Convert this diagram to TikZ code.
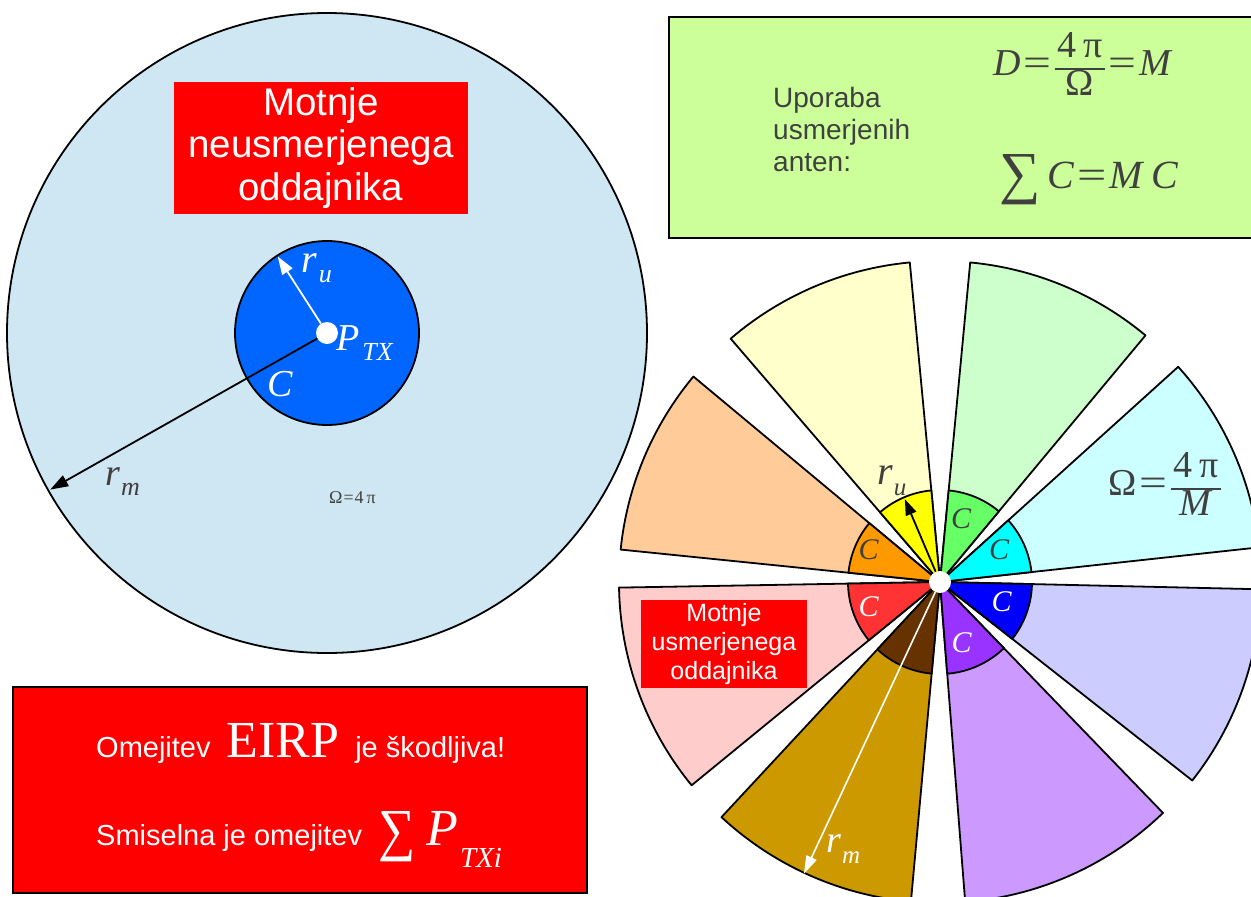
\documentclass[tikz,border=0pt]{standalone}
\usepackage{graphicx}
\usepackage{fontspec}
\setmainfont{Liberation Serif}
\newfontfamily\sansf{Liberation Sans}
\usetikzlibrary{arrows.meta}
\definecolor{bgblue}{HTML}{CFE6F3}
\definecolor{pblue}{HTML}{0066FF}
\definecolor{eqgray}{HTML}{404040}
\definecolor{gbox}{HTML}{CCFF99}
\definecolor{oCy}{HTML}{CCFFFF}\definecolor{iCy}{HTML}{00FFFF}
\definecolor{oGr}{HTML}{CCFFCC}\definecolor{iGr}{HTML}{66FF66}
\definecolor{oYe}{HTML}{FFFFCC}\definecolor{iYe}{HTML}{FFFF00}
\definecolor{oOr}{HTML}{FFCC99}\definecolor{iOr}{HTML}{FF9900}
\definecolor{oRe}{HTML}{FFCCCC}\definecolor{iRe}{HTML}{FF3333}
\definecolor{oBr}{HTML}{CC9900}\definecolor{iBr}{HTML}{663300}
\definecolor{oPu}{HTML}{CC99FF}\definecolor{iPu}{HTML}{9933FF}
\definecolor{oBl}{HTML}{CCCCFF}\definecolor{iBl}{HTML}{0000FF}
\newcommand\fsz[2]{\fontsize{#1}{#2}\selectfont}
\newcommand\bigsum[3]{\raisebox{#2}{\scalebox{#3}[1]{\fontsize{#1}{#1}\selectfont ∑}}}
\newcommand\eqs{\hspace{3pt}\scalebox{1.3}[1]{=}\hspace{3pt}}
\newcommand\fracx[2]{{\setlength\arrayrulewidth{1.5pt}\setlength\tabcolsep{3pt}\renewcommand\arraystretch{0.95}\begin{tabular}[c]{c}#1\\\hline #2\end{tabular}}}
\begin{document}
\begin{tikzpicture}[x=1pt,y=-1pt,
  outl/.style={draw=black,line width=1.8pt,line join=round},
  lbl/.style={inner sep=0pt,anchor=base west},
  dot/.style={circle,fill=white,minimum size=22pt,inner sep=0pt},
  arr/.style={line width=1.8pt,-{Triangle[length=18pt,width=12pt]}},
  cl/.style={inner sep=0pt,font=\fsz{30}{30}\itshape},
  redbox/.style={fill=red,text=white,inner sep=0pt,align=center}]
\useasboundingbox (0,0) rectangle (1251,897);
\clip (0,0) rectangle (1251,897);

% ---------- left: omnidirectional ----------
\coordinate (O) at (327,333);
\draw[outl,fill=bgblue] (O) circle[radius=320];
\draw[outl,fill=pblue] (O) circle[radius=92];
\node[dot] (Odot) at (O) {};
\path (O) ++(-209.5:318) coordinate (rmEnd);
\path (O) ++(-122.8:91) coordinate (ruEnd);
\draw[arr] (Odot) -- (rmEnd);
\draw[arr,white] (Odot) -- (ruEnd);
\node[lbl,text=white] (ruL) at (301,272) {\fsz{40}{40}\textit{r}\hspace{2pt}\raisebox{-10pt}{\fsz{26}{26}\textit{u}}};
\node[lbl,text=white] (ptx) at (336,350) {\fsz{38}{38}\textit{P}\hspace{3pt}\raisebox{-10pt}{\fsz{26}{26}\textit{TX}}};
\node[lbl,text=white] (cL) at (267,396) {\fsz{38}{38}\textit{C}};
\node[lbl,text=eqgray] (rmL) at (105,485) {\fsz{38}{38}\textit{r}\hspace{1pt}\raisebox{-10pt}{\fsz{26}{26}\textit{m}}};
\node[lbl,text=eqgray] (om4) at (329,503) {\fsz{18}{18}Ω\hspace{1pt}=\hspace{1pt}4\,π};
\node[redbox,minimum width=294pt,minimum height=132pt,font=\sansf\fsz{38.5}{42.5}] (tlbox) at (321,148) {Motnje\\neusmerjenega\\oddajnika};

% ---------- bottom-left box ----------
\node[draw=black,line width=1.8pt,fill=red,minimum width=574pt,minimum height=206pt] (bbox) at (300,790) {};
\node[lbl,text=white] (l1) at (96,757) {\sansf\fsz{29}{30}Omejitev\hspace{16pt}{\rmfamily\fsz{52}{52}EIRP}\hspace{16pt}je škodljiva!};
\node[lbl,text=white] (l2) at (96,845) {\sansf\fsz{29}{30}Smiselna je omejitev\hspace{16pt}{\rmfamily\fsz{52}{52}\bigsum{58}{-4pt}{0.9}\hspace{11pt}\textit{P}\hspace{2pt}\raisebox{-22pt}{\fsz{29}{29}\textit{TXi}}}};

% ---------- green box ----------
\node[draw=black,line width=1.8pt,fill=gbox,minimum width=586pt,minimum height=221pt,inner sep=0pt] (gb) at (962,127.5) {};
\node[anchor=west,inner sep=0pt,align=left,text=eqgray,font=\sansf\fsz{28}{32}] (upo) at (773,129) {Uporaba\\usmerjenih\\anten:};
\node[inner sep=0pt,text=eqgray,font=\fsz{38}{38}] (eqD) at (1083,69) {\textit{D}\eqs\fracx{4\,π}{Ω}\eqs\textit{M}};
\node[inner sep=0pt,text=eqgray,font=\fsz{40}{40}] (eqS) at (1089,180) {\bigsum{58}{-4pt}{1}\hspace{6pt}\textit{C}\eqs\textit{M}\,\textit{C}};

% ---------- right: directional fan ----------
\coordinate (F) at (940,582);
\foreach \s/\e/\oc/\ic in {6.2/42.1/oCy/iCy,50.2/84.6/oGr/iGr,95.4/130.7/oYe/iYe,140.2/174.2/oOr/iOr,181/219.3/oRe/iRe,227.1/264.8/oBr/iBr,274.5/314/oPu/iPu,321.8/358.7/oBl/iBl}{
  \filldraw[outl,fill=\oc] (F) -- ++(-\s:321) arc[start angle=-\s,end angle=-\e,radius=321] -- cycle;
  \filldraw[outl,fill=\ic] (F) -- ++(-\s:92) arc[start angle=-\s,end angle=-\e,radius=92] -- cycle;
}
\node[dot] (Fdot) at (F) {};
\path (F) ++(-113:90) coordinate (fru);
\path (F) ++(-245:322) coordinate (frm);
\draw[line width=1.8pt,-{Triangle[length=16pt,width=11pt]}] (Fdot) -- (fru);
\draw[white,line width=1.6pt,-{Triangle[length=18pt,width=11pt]}] (Fdot) -- (frm);
\node[cl,text=eqgray] (cGr) at (961,518.5) {C};
\node[cl,text=eqgray] (cCy) at (999,550) {C};
\node[cl,text=eqgray] (cOr) at (868.5,550) {C};
\node[cl,text=white] (cRe) at (868.5,606.5) {C};
\node[cl,text=white] (cBl) at (1001.5,601.5) {C};
\node[cl,text=white] (cPu) at (961.5,642.5) {C};
\node[lbl,text=eqgray] (fruL) at (877,484) {\fsz{40}{40}\textit{r}\hspace{1pt}\raisebox{-11pt}{\fsz{25}{25}\textit{u}}};
\node[lbl,text=white] (frmL) at (826,852) {\fsz{38}{38}\textit{r}\hspace{1pt}\raisebox{-11pt}{\fsz{25}{25}\textit{m}}};
\node[inner sep=0pt,text=eqgray,font=\fsz{38}{38}] (omM) at (1165,489) {Ω\eqs\fracx{4\,π}{\textit{M}}};
\node[redbox,minimum width=166pt,minimum height=88pt,font=\sansf\fsz{25}{29}] (fanbox) at (724,644) {Motnje\\usmerjenega\\oddajnika};
\end{tikzpicture}
\end{document}
